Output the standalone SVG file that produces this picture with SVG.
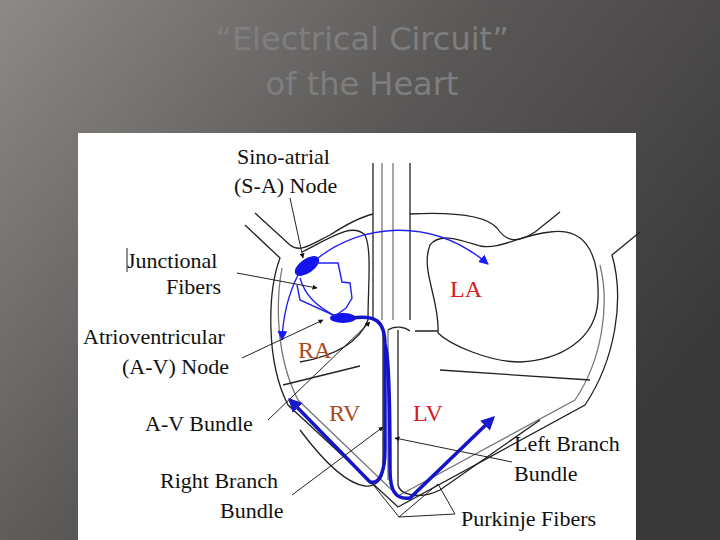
<svg xmlns="http://www.w3.org/2000/svg" width="720" height="540" viewBox="0 0 720 540">
<defs>
<linearGradient id="bg" x1="0" y1="0" x2="1" y2="0.6">
<stop offset="0" stop-color="#8c8986"/><stop offset="0.5" stop-color="#5a5857"/><stop offset="1" stop-color="#3a3939"/>
</linearGradient>
<marker id="ab" viewBox="0 0 10 10" refX="9" refY="5" markerWidth="7" markerHeight="7" orient="auto"><path d="M0,0 L10,5 L0,10 z" fill="#1a1aff"/></marker>
<marker id="ak" viewBox="0 0 10 10" refX="9" refY="5" markerWidth="5" markerHeight="5" orient="auto"><path d="M0,0 L10,5 L0,10 z" fill="#111"/></marker>
<marker id="abig" viewBox="0 0 10 10" refX="8" refY="5" markerWidth="4" markerHeight="4" orient="auto"><path d="M0,0 L10,5 L0,10 z" fill="#1a1acc"/></marker>
</defs>
<style>
.t{font-family:"Liberation Serif",serif;font-size:22px;fill:#111}
.ch{font-family:"Liberation Serif",serif;font-size:24px}
.o{fill:none;stroke:#222;stroke-width:1.3}
.g{fill:none;stroke:#777;stroke-width:1.3}
.l{stroke:#222;stroke-width:1;fill:none}
.b{fill:none;stroke:#2222ee;stroke-width:1.4}
.bb{fill:none;stroke:#1414c8;stroke-width:3.5}
</style>
<rect width="720" height="540" fill="url(#bg)"/>
<text x="362" y="50" text-anchor="middle" font-family="DejaVu Sans, sans-serif" font-size="32" fill="#7e7e7e">“Electrical Circuit”</text>
<text x="362" y="95" text-anchor="middle" font-family="DejaVu Sans, sans-serif" font-size="32" fill="#7e7e7e">of the Heart</text>
<rect x="78" y="133" width="558" height="407" fill="#fff"/>
<g id="heart">
<path class="o" d="M255,213 L290,245 C300,253 310,245 330,235 C350,222 365,216 373,214"/>
<path class="o" d="M410,214 C450,212 485,215 497,228 C505,240 515,245 535,232 L560,212"/>
<path class="o" d="M245,225 L280,258 C268,290 265,360 288,405 L398,507 L585,405 C615,360 625,300 612,255 L640,232"/>
<path class="g" d="M282,268 C276,300 275,355 298,400 L398,496 L575,400 C602,360 610,305 600,265"/>
<path class="o" d="M302,252 C330,238 352,222 365,235 C372,250 368,285 368,320 C360,340 340,355 300,362"/>
<path class="o" d="M438,333 C440,300 420,270 430,245 C440,232 460,240 480,246 C500,250 520,235 550,232 C580,228 600,245 598,300 C596,340 560,360 520,362 C490,362 450,345 438,333"/>
<path class="o" d="M388,330 C395,325 405,327 410,331 M415,331 L438,331"/>
<line class="o" x1="373" y1="163" x2="373" y2="320"/>
<line class="g" x1="382" y1="163" x2="382" y2="320"/>
<line class="g" x1="393" y1="163" x2="393" y2="320"/>
<line class="o" x1="410" y1="163" x2="410" y2="320"/>
<path class="o" d="M283,385 L360,366"/>
<path class="o" d="M440,370 L590,380"/>
<path class="o" d="M383,330 L383,470 C383,480 375,487 365,486 C350,484 330,470 300,430"/>
<path class="g" d="M388,330 L388,480"/>
<path class="o" d="M398,330 L398,485 C400,495 420,500 440,490 L540,420"/>
</g>
<g id="conduction">
<ellipse cx="307" cy="266" rx="14" ry="7" transform="rotate(-35 307 266)" fill="#1414ee"/>
<ellipse cx="343" cy="318" rx="13" ry="5" fill="#1414ee"/>
<path class="b" d="M318,258 C360,225 430,215 488,264" marker-end="url(#ab)"/>
<path class="b" d="M298,275 C288,295 283,315 282,340" marker-end="url(#ab)"/>
<path class="b" d="M315,263 L338,263 L342,282 L350,283 L352,298 L346,308 L335,316 L300,300 L297,285"/>
<path class="b" d="M300,278 C305,295 315,305 335,316"/>
<path class="bb" d="M352,318 C375,315 385,320 385,345 L385,450 C385,470 380,485 370,482 L290,400" marker-end="url(#abig)"/>
<path class="bb" d="M385,345 C388,350 390,400 390,470 C390,490 395,500 410,498 L493,418" marker-end="url(#abig)"/>
</g>
<g id="labels">
<text class="t" x="237" y="164">Sino-atrial</text>
<text class="t" x="234" y="193">(S-A) Node</text>
<text class="t" x="127" y="268">Junctional</text>
<line x1="127" y1="248" x2="127" y2="272" stroke="#222"/>
<text class="t" x="166" y="294">Fibers</text>
<text class="t" x="83" y="344">Atrioventricular</text>
<text class="t" x="122" y="374">(A-V) Node</text>
<text class="t" x="145" y="431">A-V Bundle</text>
<text class="t" x="160" y="488">Right Branch</text>
<text class="t" x="220" y="518">Bundle</text>
<text class="t" x="514" y="451">Left Branch</text>
<text class="t" x="514" y="481">Bundle</text>
<text class="t" x="461" y="526">Purkinje Fibers</text>
<text class="ch" x="450" y="297" fill="#d42020">LA</text>
<text class="ch" x="298" y="358" fill="#a84a20">RA</text>
<text class="ch" x="329" y="421" fill="#a84a20">RV</text>
<text class="ch" x="413" y="421" fill="#d42020">LV</text>
</g>
<g id="connectors">
<line class="l" x1="290" y1="198" x2="303" y2="258" marker-end="url(#ak)"/>
<line class="l" x1="237" y1="273" x2="317" y2="288" marker-end="url(#ak)"/>
<line class="l" x1="242" y1="358" x2="323" y2="320" marker-end="url(#ak)"/>
<line class="l" x1="268" y1="420" x2="370" y2="322" marker-end="url(#ak)"/>
<line class="l" x1="292" y1="495" x2="383" y2="427" marker-end="url(#ak)"/>
<line class="l" x1="512" y1="462" x2="395" y2="438" marker-end="url(#ak)"/>
<polyline class="l" points="371,482 399,517 438,484"/>
<line class="l" x1="455" y1="514" x2="438" y2="484"/>
<line class="l" x1="455" y1="514" x2="399" y2="517"/>
</g>
</svg>
